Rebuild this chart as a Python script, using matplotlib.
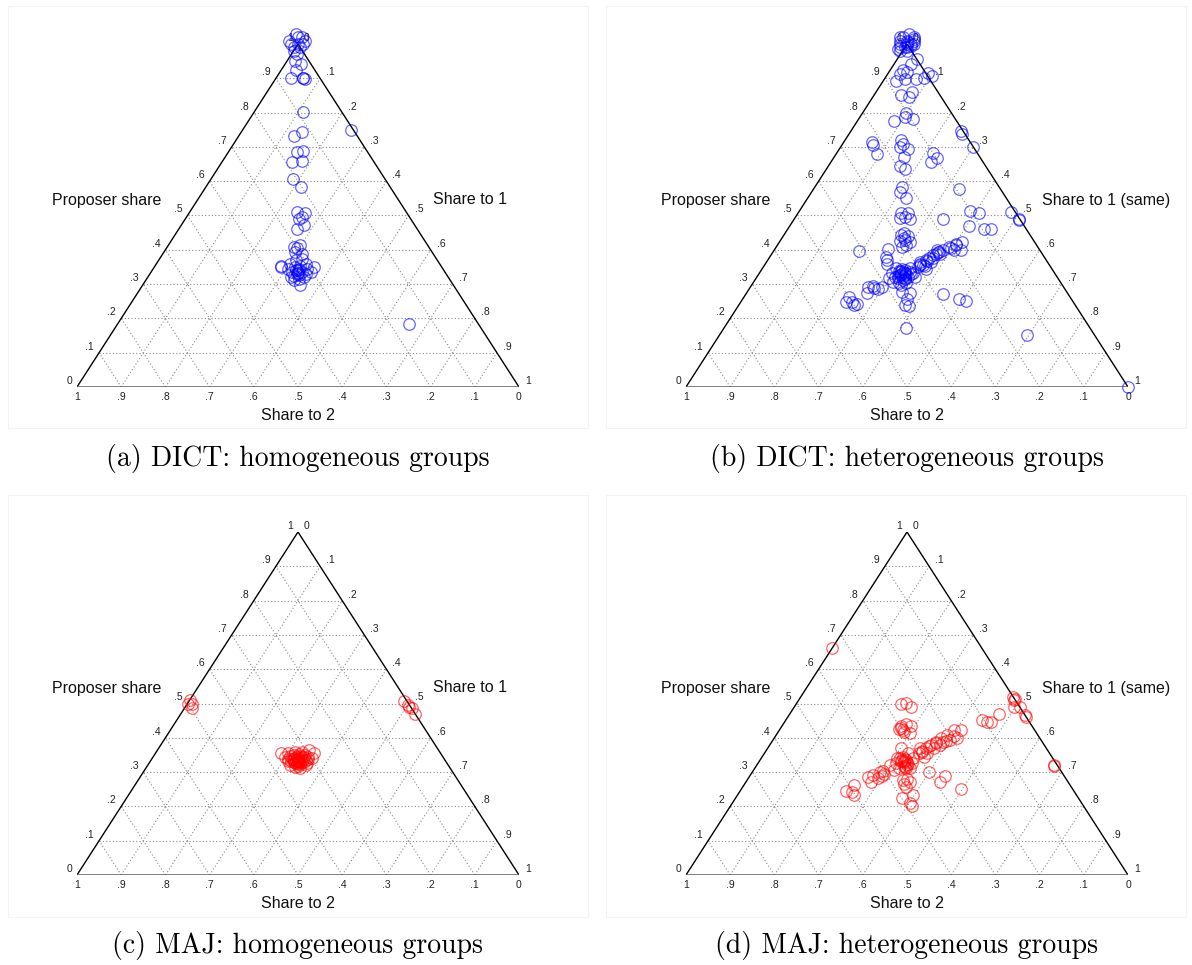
import numpy as np
import matplotlib
matplotlib.use("Agg")
import matplotlib.pyplot as plt
from matplotlib.patches import Rectangle

# proposer share / share to 1 for every group decision (share to 2 is the rest)
prop_a = [1.03, 1.02, 1.01, 1.0, 0.99, 1.02, 0.98, 1.0, 0.99, 1.01, 0.97, 1.0,
          0.951, 0.942, 0.924, 0.900, 0.900, 0.900, 0.898, 0.803, 0.733, 0.743, 0.750,
          0.684, 0.687, 0.655, 0.660, 0.607, 0.583,
          0.510, 0.507, 0.495, 0.490, 0.471, 0.461,
          0.408, 0.406, 0.413, 0.393, 0.388, 0.352, 0.350,
          0.359, 0.350, 0.354, 0.359, 0.350, 0.335, 0.335, 0.330, 0.335, 0.316,
          0.311, 0.320, 0.296, 0.345, 0.345, 0.369, 0.374, 0.340, 0.325, 0.345,
          0.320, 0.330, 0.333, 0.333, 0.340, 0.327,
          0.184]
share1_a = [-0.02, 0.0, -0.025, 0.0, 0.01, -0.01, 0.0, -0.015, -0.005, 0.01, 0.012, 0.012,
            0.017, 0.036, 0.0335, 0.035, 0.061, 0.061, 0.066, 0.1095, 0.1235, 0.138, 0.245,
            0.156, 0.1675, 0.1585, 0.1795, 0.185, 0.2155,
            0.2425, 0.262, 0.262, 0.2565, 0.2775, 0.267,
            0.286, 0.2945, 0.299, 0.2975, 0.3155, 0.285, 0.2875,
            0.3025, 0.319, 0.3285, 0.3375, 0.3615, 0.3615, 0.3185, 0.3325, 0.342, 0.3435,
            0.3345, 0.353, 0.3575, 0.3055, 0.3485, 0.311, 0.3225, 0.33, 0.3295, 0.3305,
            0.3245, 0.352, 0.333, 0.333, 0.325, 0.338,
            0.659]

prop_b = [1.02, 1.01, 1.0, 0.99, 1.02, 1.0, 0.98, 1.01, 0.99, 1.0, 1.02, 0.98, 1.0, 0.99,
          1.03, 1.01, 0.995, 1.015, 0.985, 1.005,
          0.957, 0.941, 0.923, 0.918, 0.913, 0.892, 0.899, 0.899, 0.902, 0.906, 0.914,
          0.850, 0.846, 0.860, 0.799, 0.787, 0.776, 0.780, 0.746, 0.739, 0.700,
          0.715, 0.705, 0.678, 0.719, 0.708, 0.700, 0.695, 0.671, 0.644, 0.637,
          0.683, 0.669, 0.656, 0.584, 0.569, 0.552, 0.576,
          0.506, 0.508, 0.496, 0.490, 0.494, 0.491, 0.514, 0.506, 0.469, 0.461, 0.462,
          0.510, 0.491, 0.486,
          0.443, 0.440, 0.428, 0.423, 0.426, 0.414, 0.409, 0.435, 0.448,
          0.397, 0.401, 0.37, 0.36, 0.38,
          0.360, 0.370, 0.384, 0.394, 0.399, 0.409, 0.418, 0.423, 0.399, 0.399, 0.389,
          0.375, 0.355, 0.350, 0.343, 0.365, 0.399, 0.394,
          0.357, 0.368, 0.377, 0.388, 0.404, 0.413, 0.365, 0.352,
          0.331, 0.321, 0.336, 0.341, 0.346, 0.331, 0.317, 0.312, 0.321, 0.307, 0.297,
          0.302, 0.321, 0.346, 0.326, 0.326, 0.333, 0.329, 0.338, 0.318,
          0.334, 0.328, 0.338, 0.322, 0.315, 0.343, 0.330, 0.325, 0.336, 0.303,
          0.292, 0.294, 0.287, 0.292, 0.317, 0.275, 0.29,
          0.263, 0.249, 0.242, 0.249, 0.238,
          0.278, 0.275, 0.258, 0.239, 0.236, 0.171,
          0.271, 0.258, 0.250, 0.151, 0.0]
share1_b = [-0.02, 0.01, 0.0, -0.01, 0.005, -0.015, 0.01, -0.005, 0.005, 0.01, -0.025, -0.005, 0.015, 0.0,
            -0.01, -0.02, 0.012, 0.008, -0.012, 0.0,
            0.043, 0.039, 0.0295, 0.041, 0.027, 0.030, 0.0455, 0.0715, 0.0885, 0.1035, 0.09,
            0.0625, 0.0815, 0.082, 0.0975, 0.1015, 0.082, 0.1235, 0.25, 0.255, 0.30,
            0.0625, 0.0715, 0.094, 0.128, 0.137, 0.1335, 0.1545, 0.157, 0.163, 0.1765,
            0.2165, 0.2325, 0.2265, 0.1975, 0.2005, 0.2225, 0.33,
            0.2345, 0.248, 0.247, 0.2625, 0.2365, 0.3365, 0.385, 0.4095, 0.406, 0.4435, 0.46,
            0.48, 0.508, 0.51,
            0.266, 0.282, 0.281, 0.296, 0.2705, 0.2915, 0.285, 0.275, 0.27,
            0.192, 0.257, 0.27, 0.275, 0.262,
            0.3485, 0.3585, 0.366, 0.3725, 0.381, 0.391, 0.4015, 0.414, 0.422, 0.407, 0.371,
            0.363, 0.3585, 0.3495, 0.3705, 0.372, 0.3675, 0.376,
            0.352, 0.361, 0.370, 0.380, 0.398, 0.405, 0.347, 0.365,
            0.2995, 0.312, 0.3155, 0.3245, 0.333, 0.348, 0.3215, 0.335, 0.3415, 0.315, 0.339,
            0.3475, 0.3565, 0.303, 0.3205, 0.332, 0.328, 0.322, 0.318, 0.336,
            0.326, 0.333, 0.313, 0.329, 0.338, 0.318, 0.345, 0.318, 0.339, 0.33,
            0.2665, 0.277, 0.2915, 0.2965, 0.3005, 0.272, 0.28,
            0.2365, 0.251, 0.2655, 0.238, 0.26,
            0.3505, 0.37, 0.371, 0.3755, 0.3865, 0.4115,
            0.4465, 0.489, 0.5095, 0.6955, 1.0]

prop_c = [0.50, 0.51, 0.499, 0.486,
          0.506, 0.496, 0.486, 0.469, 0.491,
          0.355, 0.355, 0.360, 0.360, 0.363, 0.355, 0.340, 0.336, 0.336, 0.338, 0.345,
          0.316, 0.311, 0.321, 0.321, 0.345, 0.345, 0.350,
          0.333, 0.333, 0.333, 0.330, 0.338, 0.328, 0.340, 0.326, 0.348, 0.334,
          0.331, 0.343, 0.325, 0.337, 0.329, 0.350, 0.318, 0.342,
          0.336, 0.332, 0.327, 0.341, 0.346, 0.352, 0.323, 0.330, 0.338, 0.344,
          0.335, 0.329, 0.339, 0.333, 0.347, 0.326]
share1_c = [0.0, 0.0, 0.0105, 0.017,
            0.486, 0.501, 0.514, 0.531, 0.505,
            0.285, 0.3005, 0.314, 0.3295, 0.3435, 0.359, 0.3625, 0.349, 0.3335, 0.317, 0.298,
            0.336, 0.35, 0.3215, 0.3565, 0.325, 0.337, 0.315,
            0.333, 0.333, 0.328, 0.338, 0.330, 0.340, 0.322, 0.335, 0.327, 0.345,
            0.313, 0.351, 0.343, 0.309, 0.326, 0.340, 0.341, 0.334,
            0.331, 0.336, 0.330, 0.328, 0.334, 0.327, 0.338, 0.344, 0.320, 0.341,
            0.324, 0.349, 0.352, 0.318, 0.309, 0.357]

prop_d = [0.661,
          0.499, 0.501, 0.489,
          0.435, 0.441, 0.433, 0.423, 0.415, 0.425, 0.430, 0.418,
          0.423, 0.399, 0.423, 0.409, 0.399, 0.389, 0.379, 0.370, 0.360, 0.355, 0.355,
          0.370, 0.379, 0.394, 0.389, 0.345, 0.370,
          0.362, 0.375, 0.384, 0.392, 0.405,
          0.321, 0.326, 0.331, 0.336, 0.326, 0.311, 0.316, 0.311, 0.306, 0.345, 0.355,
          0.370, 0.340, 0.340, 0.330, 0.333, 0.322,
          0.335, 0.328, 0.318, 0.342, 0.325, 0.313, 0.338,
          0.287, 0.292, 0.282, 0.272, 0.302, 0.289, 0.300, 0.295,
          0.263, 0.246, 0.233, 0.243,
          0.277, 0.272, 0.258, 0.233, 0.224, 0.209, 0.201, 0.280, 0.265,
          0.299, 0.289, 0.272, 0.250,
          0.452, 0.447, 0.469, 0.445,
          0.511, 0.520, 0.513, 0.491, 0.489, 0.467, 0.462,
          0.318, 0.322]
share1_d = [0.0,
            0.237, 0.248, 0.2645,
            0.269, 0.278, 0.2925, 0.279, 0.299, 0.27, 0.272, 0.285,
            0.4105, 0.4145, 0.3945, 0.3855, 0.3785, 0.3715, 0.3645, 0.357, 0.3545, 0.349, 0.3685,
            0.377, 0.3845, 0.401, 0.3875, 0.3655, 0.3455,
            0.352, 0.362, 0.374, 0.392, 0.404,
            0.302, 0.3115, 0.321, 0.3305, 0.3475, 0.327, 0.3365, 0.351, 0.3175, 0.318, 0.325,
            0.3015, 0.3445, 0.3085, 0.335, 0.326, 0.340,
            0.322, 0.330, 0.334, 0.314, 0.339, 0.342, 0.326,
            0.2675, 0.2765, 0.2935, 0.2825, 0.2955, 0.298, 0.290, 0.300,
            0.2475, 0.24, 0.2625, 0.2535,
            0.352, 0.3705, 0.3695, 0.398, 0.376, 0.402, 0.4115, 0.360, 0.360,
            0.4005, 0.4415, 0.4395, 0.497,
            0.4435, 0.466, 0.4735, 0.459,
            0.486, 0.48, 0.487, 0.496, 0.511, 0.533, 0.538,
            0.674, 0.672]

tick_values = np.round(np.arange(0, 1.01, 0.1), 1)
captions = ["(a) DICT: homogeneous groups", "(b) DICT: heterogeneous groups",
            "(c) MAJ: homogeneous groups", "(d) MAJ: heterogeneous groups"]
right_titles = ["Share to 1", "Share to 1 (same)", "Share to 1", "Share to 1 (same)"]

FIG_W, FIG_H = 1192, 965
SANS = "Liberation Sans"


def tern_xy(p, s1):
    p = np.asarray(p, dtype=float)
    s1 = np.asarray(s1, dtype=float)
    return s1 + p / 2.0, p


def tick_text(v):
    if v == 0:
        return "0"
    if v == 1:
        return "1"
    return "." + str(int(round(v * 10)))


def draw_panel(fig, box, frame, prop, share1, color, right_title, caption, cap_y):
    left, right, base, apex = box
    ax = fig.add_axes([left / FIG_W, 1 - base / FIG_H,
                       (right - left) / FIG_W, (base - apex) / FIG_H])
    ax.set_xlim(0, 1)
    ax.set_ylim(0, 1)
    ax.axis("off")

    # dotted grid, one family of lines per component
    grid = dict(color="#8a8a8a", lw=0.8, ls=(0, (1, 2)), zorder=1)
    for v in tick_values[1:-1]:
        x, y = tern_xy([v, v], [0, 1 - v])
        ax.plot(x, y, **grid)
        x, y = tern_xy([0, 1 - v], [v, v])
        ax.plot(x, y, **grid)
        x, y = tern_xy([0, 1 - v], [1 - v, 0])
        ax.plot(x, y, **grid)

    # triangle frame
    ax.plot([0, 0.5, 1], [0, 1, 0], color="black", lw=1.0, zorder=2,
            solid_joinstyle="miter")
    ax.plot([0, 1], [0, 0], color="#5a5a5a", lw=1.8, zorder=2)

    # tick labels on the three sides
    tk = dict(textcoords="offset pixels", fontsize=7.5, family=SANS,
              color="#222222", annotation_clip=False)
    for v in tick_values:
        x, y = tern_xy(v, 0)
        ax.annotate(tick_text(v), (x, y), xytext=(-5, 6), ha="right", va="center", **tk)
        x, y = tern_xy(1 - v, v)
        ax.annotate(tick_text(v), (x, y), xytext=(6, 6), ha="left", va="center", **tk)
        x, y = tern_xy(0, 1 - v)
        ax.annotate(tick_text(v), (x, y), xytext=(0, -10), ha="center", va="center", **tk)

    tt = dict(textcoords="offset pixels", fontsize=11.5, family=SANS,
              color="#111111", annotation_clip=False)
    ax.annotate("Proposer share", (0, 0), xytext=(30, 187), ha="center", va="center", **tt)
    ax.annotate(right_title, (1, 0), xytext=(-86, 187), ha="left", va="center", **tt)
    ax.annotate("Share to 2", (0.5, 0), xytext=(0, -28), ha="center", va="center", **tt)

    x, y = tern_xy(prop, share1)
    ax.plot(x, y, "o", mfc="none", mec=color, mew=0.9, ms=8.3, alpha=0.6,
            clip_on=False, zorder=3)

    fx0, fy0, fx1, fy1 = frame
    fig.patches.append(Rectangle((fx0 / FIG_W, 1 - fy1 / FIG_H), (fx1 - fx0) / FIG_W,
                                 (fy1 - fy0) / FIG_H, transform=fig.transFigure,
                                 fill=False, ec="#f3f3f3", lw=0.8))
    fig.text((left + right) / 2 / FIG_W, 1 - cap_y / FIG_H, caption,
             family="cmr10", fontsize=20, ha="center", va="center")


fig = plt.figure(figsize=(FIG_W / 100, FIG_H / 100), dpi=100)
fig.patch.set_facecolor("white")

boxes = [(77, 519, 387, 44), (686, 1128, 387, 44), (77, 519, 875, 532), (686, 1128, 875, 532)]
frames = [(8, 6, 588, 428), (606, 6, 1186, 428), (8, 495, 588, 917), (606, 495, 1186, 917)]
props = [prop_a, prop_b, prop_c, prop_d]
shares = [share1_a, share1_b, share1_c, share1_d]
colors = ["blue", "blue", "red", "red"]
cap_ys = [458, 458, 945, 945]

for i in range(4):
    draw_panel(fig, boxes[i], frames[i], props[i], shares[i], colors[i],
               right_titles[i], captions[i], cap_ys[i])

fig.savefig("out.png", dpi=100, facecolor="white")
